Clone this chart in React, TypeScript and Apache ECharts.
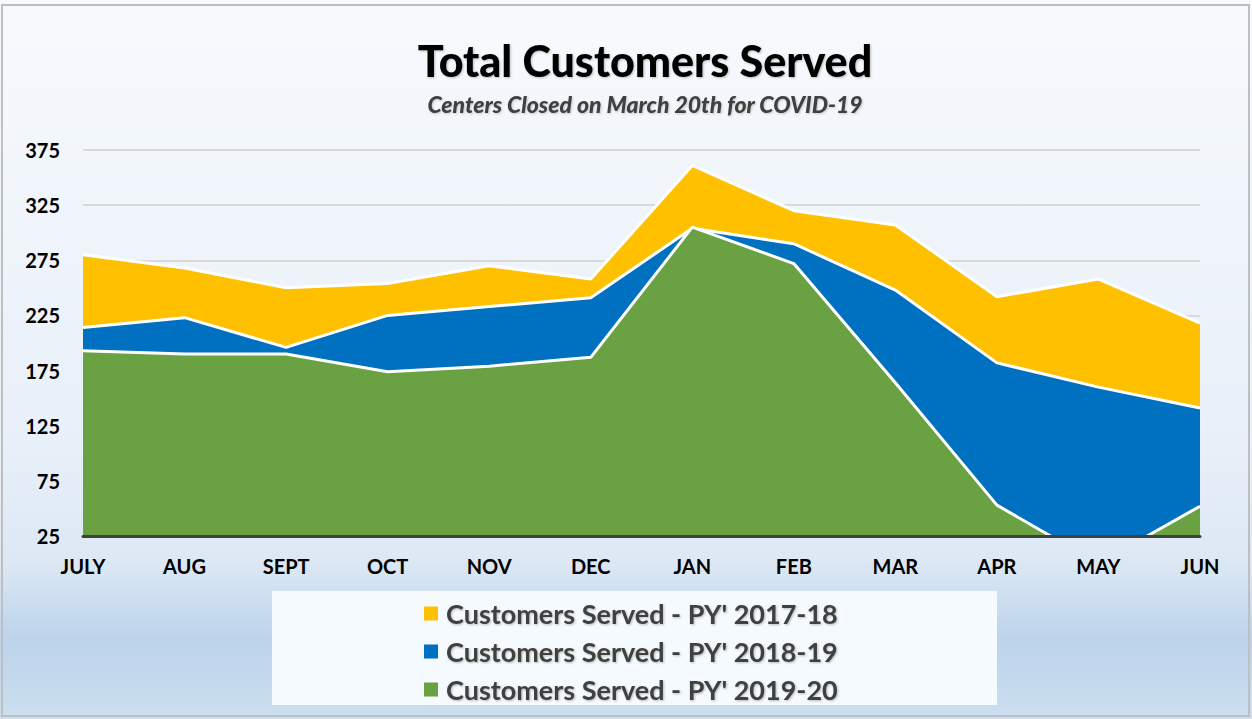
import React, { useEffect, useRef } from "react";
import * as echarts from "echarts";

const months = ["JULY", "AUG", "SEPT", "OCT", "NOV", "DEC", "JAN", "FEB", "MAR", "APR", "MAY", "JUN"];
const py1718 = [280, 268, 250, 254, 270, 258, 361, 320, 307, 242, 258, 218];
const py1819 = [214, 223, 196, 225, 233, 241, 304, 290, 248, 182, 160, 141];
const py1920 = [193, 190, 190, 174, 179, 187, 305, 272, 164, 53, 0, 52];
const seriesNames = [
  "Customers Served - PY' 2017-18",
  "Customers Served - PY' 2018-19",
  "Customers Served - PY' 2019-20",
];
const seriesColors = ["#FFC000", "#0070C0", "#6AA143"];
const yMin = 25;
const yMax = 375;
const yStep = 50;

const FONT = "Lato, 'Open Sans', sans-serif";

export default function App() {
  const ref = useRef<HTMLDivElement>(null);

  useEffect(() => {
    document.body.style.margin = "0";
    const chart = echarts.init(ref.current!, null, { renderer: "svg" });
    const seriesData = [py1718, py1819, py1920];
    chart.setOption({
      animation: false,
      backgroundColor: {
        type: "linear",
        x: 0,
        y: 0,
        x2: 0,
        y2: 1,
        colorStops: [
          { offset: 0, color: "#f7fafd" },
          { offset: 0.6, color: "#e9f0f9" },
          { offset: 0.78, color: "#dde8f5" },
          { offset: 0.89, color: "#bcd3ea" },
          { offset: 1, color: "#cddff0" },
        ],
      },
      title: {
        text: "Total Customers Served",
        subtext: "Centers Closed on March 20th for COVID-19",
        left: 640,
        top: 34,
        textAlign: "center",
        itemGap: 10,
        textStyle: {
          fontFamily: FONT,
          fontWeight: 900,
          fontSize: 43,
          color: "#000000",
          textShadowColor: "rgba(0,0,0,0.25)",
          textShadowBlur: 2,
          textShadowOffsetX: 1,
          textShadowOffsetY: 1,
        },
        subtextStyle: {
          fontFamily: FONT,
          fontWeight: 900,
          fontStyle: "italic",
          fontSize: 23,
          color: "#404040",
          textShadowColor: "rgba(0,0,0,0.2)",
          textShadowBlur: 2,
          textShadowOffsetX: 1,
          textShadowOffsetY: 1,
        },
      },
      graphic: [
        {
          type: "rect",
          silent: true,
          z: -10,
          shape: { x: 2, y: 5, width: 1247, height: 711 },
          style: { fill: "none", stroke: "#bfbfbf", lineWidth: 2 },
        },
        {
          type: "rect",
          silent: true,
          z: -5,
          shape: { x: 272, y: 591, width: 725, height: 114 },
          style: { fill: "#f4fafd" },
        },
      ],
      grid: { left: 83, right: 52, top: 150, bottom: 183, containLabel: false },
      legend: {
        orient: "vertical",
        left: 419,
        top: 595,
        itemGap: 11,
        itemWidth: 14,
        itemHeight: 14,
        icon: "rect",
        data: seriesNames.map((n, i) => ({
          name: n,
          itemStyle: { color: seriesColors[i], borderWidth: 0 },
        })),
        textStyle: {
          fontFamily: FONT,
          fontWeight: "bold",
          fontSize: 27,
          color: "#404040",
          padding: [0, 0, 0, 3],
          textShadowColor: "rgba(0,0,0,0.25)",
          textShadowBlur: 2,
          textShadowOffsetX: 1,
          textShadowOffsetY: 1,
        },
      },
      xAxis: {
        type: "category",
        data: months,
        boundaryGap: false,
        axisLine: { show: true, lineStyle: { color: "#404040", width: 3 } },
        axisTick: { show: false },
        axisLabel: {
          margin: 20,
          fontFamily: FONT,
          fontWeight: "bold",
          fontSize: 20,
          color: "#000000",
        },
        z: 10,
      },
      yAxis: {
        type: "value",
        min: yMin,
        max: yMax,
        interval: yStep,
        axisLine: { show: false },
        axisTick: { show: false },
        splitLine: { lineStyle: { color: "#d9d9d9", width: 2 } },
        axisLabel: {
          margin: 23,
          fontFamily: FONT,
          fontWeight: "bold",
          fontSize: 20,
          color: "#000000",
        },
      },
      series: seriesNames.map((n, i) => ({
        name: n,
        type: "line",
        data: seriesData[i],
        symbol: "none",
        color: seriesColors[i],
        lineStyle: { color: "#ffffff", width: 3 },
        areaStyle: { color: seriesColors[i], opacity: 1 },
        z: 2 + i,
      })),
    });
    return () => chart.dispose();
  }, []);

  return <div ref={ref} style={{ position: "absolute", left: 0, top: 0, width: 1252, height: 719 }} />;
}
